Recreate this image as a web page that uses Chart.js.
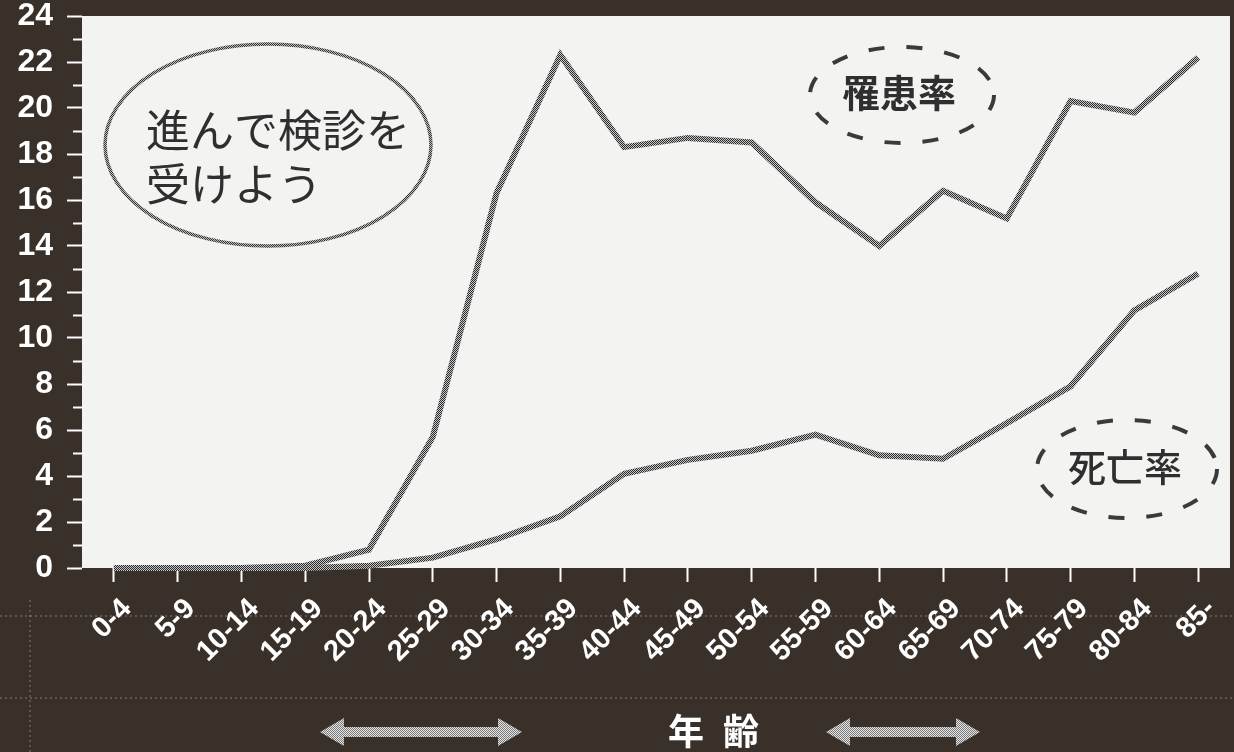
<!DOCTYPE html>
<html>
<head>
<meta charset="utf-8">
<script src="https://cdn.jsdelivr.net/npm/chart.js@4/dist/chart.umd.min.js"></script>
<style>
html,body{margin:0;padding:0;background:#3a302a;}
#wrap{width:1234px;height:752px;}
</style>
</head>
<body>
<div id="wrap"><canvas id="c" width="1234" height="752"></canvas></div>
<script>
// ---- data ----
const ageGroups = ['0-4','5-9','10-14','15-19','20-24','25-29','30-34','35-39','40-44','45-49','50-54','55-59','60-64','65-69','70-74','75-79','80-84','85-'];
const incidenceRate = [0, 0, 0, 0.1, 0.8, 5.7, 16.3, 22.3, 18.3, 18.7, 18.5, 15.9, 14.0, 16.4, 15.2, 20.3, 19.8, 22.2];
const mortalityRate = [0, 0, 0, 0, 0.1, 0.45, 1.25, 2.25, 4.1, 4.7, 5.1, 5.8, 4.9, 4.75, 6.3, 7.9, 11.2, 12.8];
const yTickLabels = [0, 2, 4, 6, 8, 10, 12, 14, 16, 18, 20, 22, 24];
const labelIncidence = '罹患率';
const labelMortality = '死亡率';
const noteLines = ['進んで検診を', '受けよう'];
const axisTitleChars = ['年', '齢'];

// ---- patterns (halftone look) ----
function makePattern(dark, light) {
  const pc = document.createElement('canvas');
  pc.width = 2; pc.height = 2;
  const p = pc.getContext('2d');
  p.fillStyle = light; p.fillRect(0, 0, 2, 2);
  p.fillStyle = dark; p.fillRect(0, 0, 1, 1); p.fillRect(1, 1, 1, 1);
  return document.getElementById('c').getContext('2d').createPattern(pc, 'repeat');
}
const linePattern = makePattern('#2a2a2a', '#c8c8c8');
const arrowPattern = makePattern('#7a7a7a', '#e4e4e4');
const ringPattern = makePattern('#333333', '#bdbdbd');

const PLOT_BG = '#f3f3f1';
const PAGE_BG = '#3a302a';
const TEXT_DARK = '#2f2f2f';

const decorPlugin = {
  id: 'decor',
  beforeDraw(chart) {
    const ctx = chart.ctx, a = chart.chartArea;
    ctx.save();
    ctx.fillStyle = PAGE_BG;
    ctx.fillRect(0, 0, chart.width, chart.height);
    // faint halftone screen lines
    ctx.strokeStyle = 'rgba(210,200,190,0.35)';
    ctx.lineWidth = 1.5;
    ctx.setLineDash([2, 3]);
    [616, 698].forEach(yy => { ctx.beginPath(); ctx.moveTo(0, yy); ctx.lineTo(chart.width, yy); ctx.stroke(); });
    ctx.beginPath(); ctx.moveTo(30, 600); ctx.lineTo(30, chart.height); ctx.stroke();
    ctx.setLineDash([]);
    ctx.fillStyle = PLOT_BG;
    ctx.fillRect(a.left, a.top, a.right - a.left, a.bottom - a.top);
    ctx.restore();
  },
  afterDraw(chart) {
    const ctx = chart.ctx, y = chart.scales.y, a = chart.chartArea;
    ctx.save();
    // minor y ticks
    ctx.strokeStyle = '#ffffff';
    ctx.lineWidth = 2;
    for (let v = 1; v < 24; v += 2) {
      const py = Math.round(y.getPixelForValue(v)) + 0.5;
      ctx.beginPath(); ctx.moveTo(a.left - 9, py); ctx.lineTo(a.left, py); ctx.stroke();
    }
    // note ellipse
    ctx.strokeStyle = ringPattern;
    ctx.lineWidth = 3.5;
    ctx.beginPath(); ctx.ellipse(268, 145, 163, 101, 0, 0, Math.PI * 2); ctx.stroke();
    ctx.fillStyle = TEXT_DARK;
    ctx.font = '44px "Noto Sans CJK JP"';
    ctx.textBaseline = 'middle';
    ctx.textAlign = 'left';
    ctx.fillText(noteLines[0], 146, 130);
    ctx.fillText(noteLines[1], 146, 184);
    // dashed ellipses
    ctx.strokeStyle = '#3a3a3a';
    ctx.lineWidth = 4;
    ctx.setLineDash([16, 22]);
    ctx.beginPath(); ctx.ellipse(902, 95, 92, 48, 0, 0, Math.PI * 2); ctx.stroke();
    ctx.beginPath(); ctx.ellipse(1127, 469, 90, 49, 0, 0, Math.PI * 2); ctx.stroke();
    ctx.setLineDash([]);
    ctx.textAlign = 'center';
    ctx.font = 'bold 38px "Noto Sans CJK JP"';
    ctx.fillText(labelIncidence, 899, 93);
    ctx.font = '500 38px "Noto Sans CJK JP"';
    ctx.fillText(labelMortality, 1125, 467);
    // arrows
    function dblArrow(x1, x2, cy) {
      const hh = 14, sh = 5, hl = 24;
      ctx.beginPath();
      ctx.moveTo(x1, cy);
      ctx.lineTo(x1 + hl, cy - hh);
      ctx.lineTo(x1 + hl, cy - sh);
      ctx.lineTo(x2 - hl, cy - sh);
      ctx.lineTo(x2 - hl, cy - hh);
      ctx.lineTo(x2, cy);
      ctx.lineTo(x2 - hl, cy + hh);
      ctx.lineTo(x2 - hl, cy + sh);
      ctx.lineTo(x1 + hl, cy + sh);
      ctx.lineTo(x1 + hl, cy + hh);
      ctx.closePath();
      ctx.fillStyle = arrowPattern;
      ctx.fill();
    }
    dblArrow(320, 522, 732);
    dblArrow(826, 980, 732);
    // axis title
    ctx.fillStyle = '#ffffff';
    ctx.font = 'bold 36px "Noto Sans CJK JP"';
    ctx.textAlign = 'left';
    ctx.fillText(axisTitleChars[0], 668, 731);
    ctx.fillText(axisTitleChars[1], 723, 731);
    ctx.restore();
  }
};

const lineStyle = {
  borderColor: linePattern,
  borderWidth: 6,
  pointRadius: 0,
  pointHoverRadius: 0,
  tension: 0,
  fill: false,
  clip: 6
};

new Chart(document.getElementById('c'), {
  type: 'line',
  data: {
    labels: ageGroups,
    datasets: [
      Object.assign({ label: labelIncidence, data: incidenceRate }, lineStyle),
      Object.assign({ label: labelMortality, data: mortalityRate }, lineStyle)
    ]
  },
  options: {
    responsive: false,
    devicePixelRatio: 1,
    animation: false,
    events: [],
    layout: { padding: { left: 0, right: 4, top: 16, bottom: 0 } },
    plugins: { legend: { display: false }, tooltip: { enabled: false }, title: { display: false } },
    scales: {
      x: {
        type: 'category',
        offset: true,
        grid: { display: true, drawOnChartArea: false, offset: false, tickLength: 14, tickColor: '#ffffff', tickWidth: 2 },
        border: { display: false },
        ticks: {
          color: '#ffffff',
          font: { family: '"Liberation Sans", Arial, sans-serif', size: 29, weight: 'bold' },
          minRotation: 45, maxRotation: 45,
          autoSkip: false,
          padding: 10,
          labelOffset: 13
        },
        afterFit(s) { s.height = 184; s.paddingLeft = 0; s.paddingRight = 0; }
      },
      y: {
        min: 0, max: 24,
        afterBuildTicks(s) { s.ticks = yTickLabels.map(v => ({ value: v })); },
        grid: { display: true, drawOnChartArea: false, tickLength: 15, tickColor: '#ffffff', tickWidth: 2 },
        border: { display: false },
        ticks: {
          color: '#ffffff',
          font: { family: '"Liberation Sans", Arial, sans-serif', size: 32, weight: 'bold' },
          padding: 14
        },
        afterFit(s) { s.width = 82; s.paddingTop = 0; s.paddingBottom = 0; }
      }
    }
  },
  plugins: [decorPlugin]
});
</script>
</body>
</html>
